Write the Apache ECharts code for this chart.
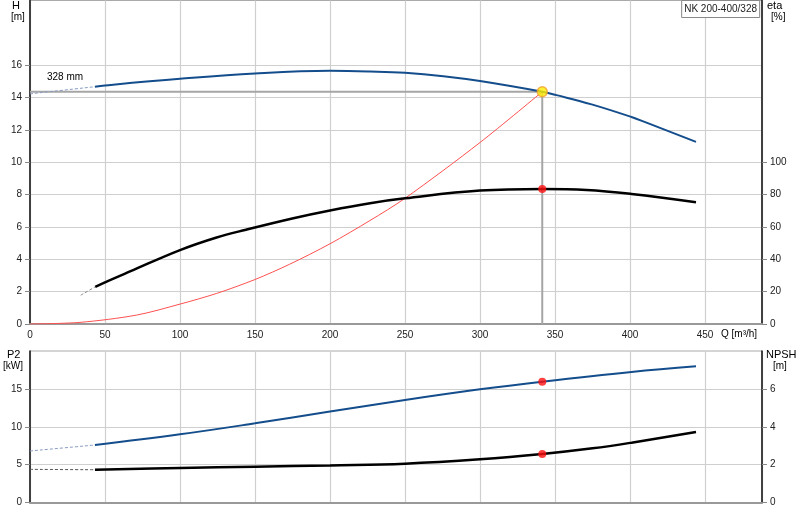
<!DOCTYPE html>
<html>
<head>
<meta charset="utf-8">
<script src="https://cdn.jsdelivr.net/npm/echarts@6/dist/echarts.min.js"></script>
<style>
html,body{margin:0;padding:0;background:#fff;}
#c{width:800px;height:520px;}
</style>
</head>
<body>
<div id="c"></div>
<script>
// ---- Data ----
const title = 'NK 200-400/328';
const impellerLabel = '328 mm';

// Head curve H [m]
const qHeadDash = [0, 43.3];
const headDash = [14.23, 14.67];
const qHead = [43.3, 50, 100, 150, 200, 227, 250, 275.6, 300, 341.5, 351, 374.4, 401, 411, 444];
const head = [14.67, 14.75, 15.16, 15.49, 15.65, 15.61, 15.53, 15.32, 15.02, 14.36, 14.15, 13.58, 12.8, 12.45, 11.26];

// Efficiency eta [%]
const qEtaDash = [33.8, 43.5];
const etaDash = [17.8, 23.0];
const qEta = [43.5, 50, 66.7, 100, 124.4, 144, 175.6, 200, 226.7, 250, 300, 341.5, 371, 401, 444];
const eta = [23.0, 25.8, 32.5, 45.7, 53.5, 58.3, 65.4, 70.2, 74.7, 77.7, 82.5, 83.5, 82.9, 80.4, 75.3];

// System curve [m]
const qSys = [0, 33.3, 71, 100, 124.4, 150, 173, 200, 226.7, 250, 300, 341.5];
const hSys = [0, 0.1, 0.55, 1.23, 1.89, 2.75, 3.69, 4.96, 6.4, 7.77, 11.22, 14.36];

// Power P2 [kW]
const qP2Dash = [0, 43.3];
const p2Dash = [6.8, 7.59];
const qP2 = [43.3, 100, 150, 200, 250, 300, 341.5, 401, 444];
const p2 = [7.59, 9.0, 10.45, 12.0, 13.53, 14.94, 15.95, 17.23, 17.98];

// NPSH [m]
const qNpshDash = [0, 43.3];
const npshDash = [1.75, 1.73];
const qNpsh = [43.3, 100, 150, 200, 250, 300, 341.5, 375, 401, 444];
const npsh = [1.73, 1.82, 1.89, 1.96, 2.05, 2.28, 2.56, 2.86, 3.16, 3.72];

// Duty point
const opQ = 341.5, opH = 14.36, opEta = 83.5, opP2 = 15.95, opNpsh = 2.56;

// Axis ticks
const qTicks = {min: 0, max: 488, interval: 50, lastLabel: 450};
const hTicks = {min: 0, max: 20, interval: 2, labels: [0, 2, 4, 6, 8, 10, 12, 14, 16]};
const etaTicks = {min: 0, max: 200, interval: 20, labels: [0, 20, 40, 60, 80, 100]};
const p2Ticks = {min: 0, max: 20, interval: 5, labels: [0, 5, 10, 15]};
const npshTicks = {min: 0, max: 8, interval: 2, labels: [0, 2, 4, 6]};

// ---- Chart ----
const zip = (xs, ys) => xs.map((x, i) => [x, ys[i]]);
const FONT = 'Liberation Sans';
const BLUE = '#144d8c';
const GRID = '#cfcfcf';
const txt = {fontFamily: FONT, fontSize: 10, color: '#222'};

function yAx(t, grid, pos, withSplit) {
  return {
    type: 'value', gridIndex: grid, position: pos,
    min: t.min, max: t.max, interval: t.interval,
    axisLine: {show: true, onZero: false, lineStyle: {color: '#111', width: 1.5}},
    axisTick: {show: true, length: 5, customValues: t.labels, lineStyle: {color: '#888'}},
    axisLabel: Object.assign({margin: 8, customValues: t.labels}, txt),
    splitLine: {show: withSplit, lineStyle: {color: GRID, width: 1.2}}
  };
}
function xAx(grid, labels) {
  return {
    type: 'value', gridIndex: grid,
    min: qTicks.min, max: qTicks.max, interval: qTicks.interval,
    axisLine: {show: true, onZero: false, lineStyle: {color: '#999', width: 2}},
    axisTick: {show: false},
    axisLabel: Object.assign({show: labels, margin: 6, formatter: v => (v <= qTicks.lastLabel ? String(v) : '')}, txt),
    splitLine: {show: true, lineStyle: {color: GRID, width: 1.2}}
  };
}
function line(data, xi, yi, color, width, dashed, z) {
  return {
    type: 'line', xAxisIndex: xi, yAxisIndex: yi, data: data,
    showSymbol: false, symbol: 'none', smooth: 0.4, silent: true, z: z || 3,
    lineStyle: {color: color, width: width, type: dashed ? [3, 2] : 'solid'}
  };
}
function dot(pt, xi, yi, fill, border, size) {
  return {
    type: 'scatter', xAxisIndex: xi, yAxisIndex: yi, data: [pt], z: 10, silent: true,
    symbol: 'circle', symbolSize: size,
    itemStyle: {color: fill, borderColor: border, borderWidth: border ? 1.5 : 0}
  };
}

const chart = echarts.init(document.getElementById('c'), null, {renderer: 'canvas'});
chart.setOption({
  animation: false,
  backgroundColor: '#fff',
  title: {
    text: title, right: 40, top: 0,
    padding: [4, 3, 4, 3],
    borderColor: '#888', borderWidth: 1, backgroundColor: '#fff',
    textStyle: {fontFamily: FONT, fontSize: 10, fontWeight: 'normal', color: '#222'}
  },
  grid: [
    {left: 30, top: 0.5, width: 732, height: 323.5, show: true, borderColor: '#aaa', borderWidth: 1, containLabel: false},
    {left: 30, top: 351, width: 732, height: 151.5, show: true, borderColor: '#aaa', borderWidth: 1, containLabel: false}
  ],
  xAxis: [xAx(0, true), xAx(1, false)],
  yAxis: [
    yAx(hTicks, 0, 'left', true),
    yAx(etaTicks, 0, 'right', false),
    yAx(p2Ticks, 1, 'left', true),
    yAx(npshTicks, 1, 'right', false)
  ],
  graphic: [
    {type: 'text', left: 12, top: 0, style: Object.assign({text: 'H'}, txt, {fontSize: 11})},
    {type: 'text', left: 11, top: 12, style: Object.assign({text: '[m]'}, txt)},
    {type: 'text', left: 767, top: 0, style: Object.assign({text: 'eta'}, txt, {fontSize: 11})},
    {type: 'text', left: 771, top: 12, style: Object.assign({text: '[%]'}, txt)},
    {type: 'text', left: 7, top: 349, style: Object.assign({text: 'P2'}, txt, {fontSize: 11})},
    {type: 'text', left: 3, top: 361, style: Object.assign({text: '[kW]'}, txt)},
    {type: 'text', left: 766, top: 349, style: Object.assign({text: 'NPSH'}, txt, {fontSize: 11})},
    {type: 'text', left: 773, top: 361, style: Object.assign({text: '[m]'}, txt)},
    {type: 'text', left: 721, top: 329, style: Object.assign({text: 'Q [m³/h]'}, txt)},
    {type: 'text', left: 47, top: 72, style: Object.assign({text: impellerLabel}, txt)}
  ],
  series: [
    // duty point guide lines
    line([[qTicks.min, opH], [opQ, opH], [opQ, 0]], 0, 0, '#a6a6a6', 2, false, 2),
    Object.assign(line(zip(qSys, hSys), 0, 0, '#ff5050', 1, false, 3), {smooth: 0.3}),
    line(zip(qHeadDash, headDash), 0, 0, '#8a9cc0', 1, true, 3),
    line(zip(qHead, head), 0, 0, BLUE, 2, false, 4),
    line(zip(qEtaDash, etaDash), 0, 1, '#888', 1, true, 3),
    line(zip(qEta, eta), 0, 1, '#000', 2.5, false, 4),
    dot([opQ, opH], 0, 0, '#ffee00', '#f0a030', 10),
    dot([opQ, opEta], 0, 1, '#ff1010', null, 8),
    line(zip(qP2Dash, p2Dash), 1, 2, '#8a9cc0', 1, true, 3),
    line(zip(qP2, p2), 1, 2, BLUE, 2, false, 4),
    line(zip(qNpshDash, npshDash), 1, 3, '#555', 1, true, 3),
    line(zip(qNpsh, npsh), 1, 3, '#000', 2.5, false, 4),
    dot([opQ, opP2], 1, 2, '#ff1010', null, 8),
    dot([opQ, opNpsh], 1, 3, '#ff1010', null, 8)
  ]
});
</script>
</body>
</html>
